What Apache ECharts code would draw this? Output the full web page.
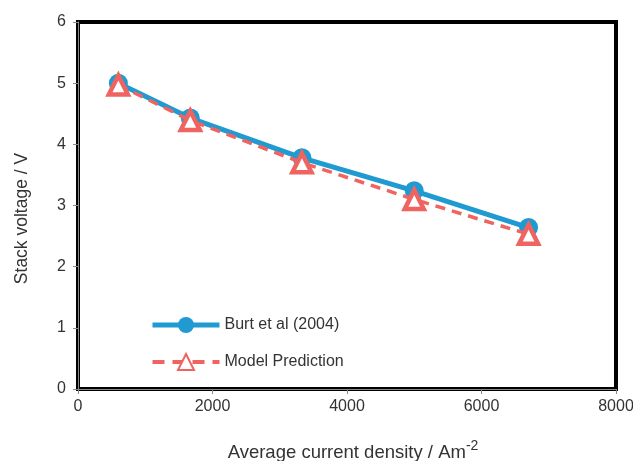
<!DOCTYPE html>
<html><head><meta charset="utf-8">
<script src="https://cdn.jsdelivr.net/npm/echarts@6/dist/echarts.min.js"></script>
<style>html,body{margin:0;padding:0;background:#fff}#c{width:633px;height:461px}</style>
</head><body><div id="c"></div>
<script>
const currentDensity = [600, 1670, 3330, 5000, 6700];
const burtVoltage = [5.0, 4.43, 3.78, 3.24, 2.64];
const modelVoltage = [4.97, 4.39, 3.70, 3.10, 2.53];
const seriesNames = ['Burt et al (2004)', 'Model Prediction'];

const chart = echarts.init(document.getElementById('c'));
const blue = '#1f9bd1', red = '#ef6461';
const font = 'Liberation Sans, Arial';
const axisCommon = {
  axisLine: {show: true, lineStyle: {color: '#888', width: 1}},
  axisTick: {show: true, length: 5, lineStyle: {color: '#888'}},
  splitLine: {show: false}
};
chart.setOption({
  animation: false,
  backgroundColor: '#fff',
  grid: {left: 78, right: 17, top: 22, bottom: 72, containLabel: false, outerBoundsMode: 'none',
         show: true, borderColor: '#000', borderWidth: 4, backgroundColor: 'transparent'},
  xAxis: Object.assign({
    type: 'value', min: 0, max: 8000, interval: 2000,
    name: 'Average current density / Am{sup|-2}', nameLocation: 'middle', nameGap: 50,
    nameTextStyle: {color: '#333', fontSize: 18.5, fontFamily: font, padding: [0, 0, 0, 12],
      rich: {sup: {fontSize: 14, color: '#333', padding: [0, 0, 13, 0], fontFamily: font}}}
  }, axisCommon, {axisLabel: {color: '#333', fontSize: 16, fontFamily: font, margin: 10, formatter: v => String(v)}}),
  yAxis: Object.assign({
    type: 'value', min: 0, max: 6, interval: 1,
    name: 'Stack voltage / V', nameLocation: 'middle', nameGap: 47, nameRotate: 90,
    nameTextStyle: {color: '#333', fontSize: 17.5, fontFamily: font, padding: [0, 26, 0, 0]}
  }, axisCommon, {axisLabel: {color: '#333', fontSize: 16, fontFamily: font, margin: 12}}),
  legend: {
    orient: 'vertical', left: 145, top: 312, itemWidth: 67, itemHeight: 20, itemGap: 20,
    textStyle: {color: '#333', fontSize: 16, fontFamily: font},
    lineStyle: {width: 'inherit'},
    data: [
      {name: seriesNames[0], lineStyle: {width: 5, color: blue}},
      {name: seriesNames[1], lineStyle: {width: 4, color: red, type: [12, 8]}}
    ]
  },
  series: [
    {name: seriesNames[0], type: 'line', data: currentDensity.map((x, i) => [x, burtVoltage[i]]),
     symbol: 'circle', symbolSize: 19, lineStyle: {color: blue, width: 5}, itemStyle: {color: blue}, z: 2},
    {name: seriesNames[1], type: 'line', data: currentDensity.map((x, i) => [x, modelVoltage[i]]),
     symbol: 'triangle', symbolSize: 19, lineStyle: {color: red, width: 3.5, type: [10, 7]},
     itemStyle: {color: '#fff', borderColor: red, borderWidth: 4.5}, z: 3}
  ]
});
</script></body></html>
